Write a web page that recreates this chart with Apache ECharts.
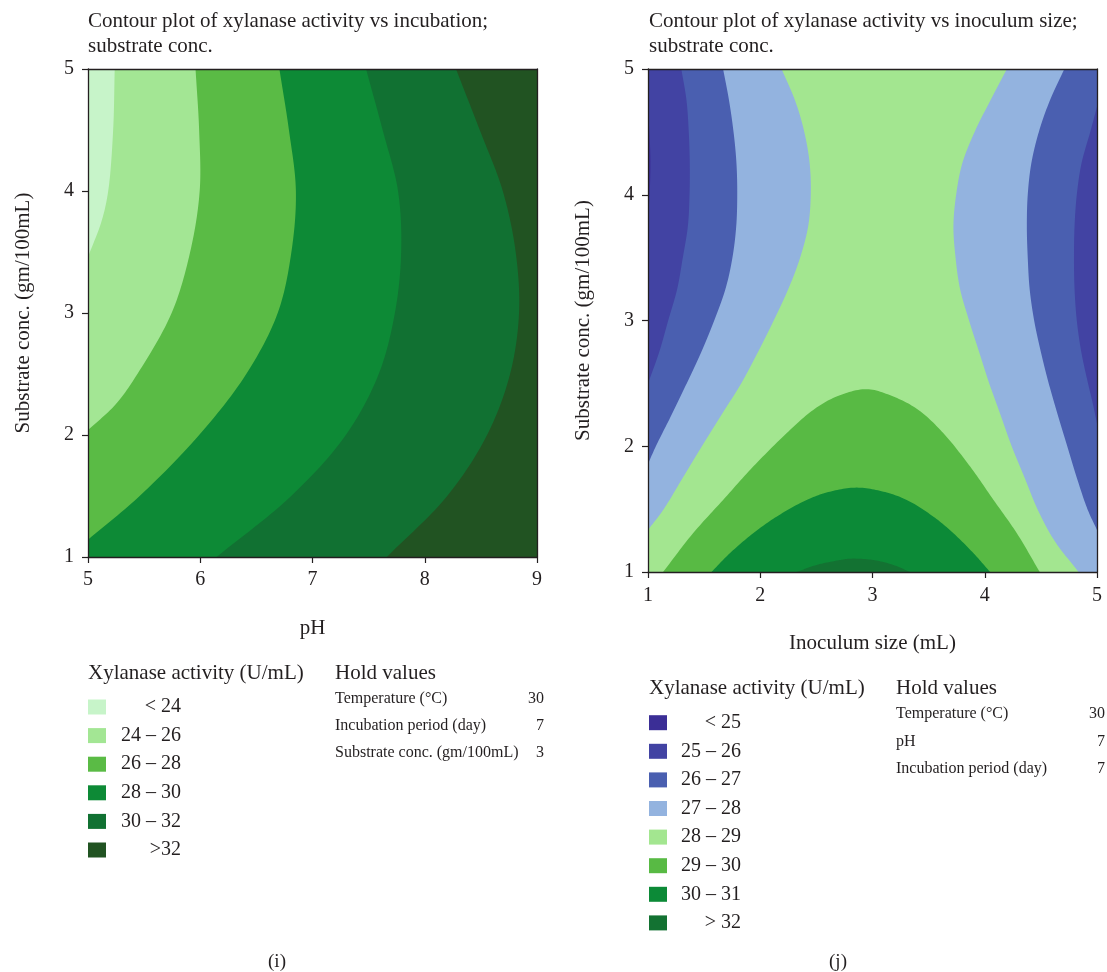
<!DOCTYPE html>
<html>
<head>
<meta charset="utf-8">
<script src="https://cdn.jsdelivr.net/npm/echarts@6/dist/echarts.min.js"></script>
<style>
  html, body { margin: 0; padding: 0; background: #ffffff; }
  #chart { width: 1107px; height: 972px; }
</style>
</head>
<body>
<div id="chart"></div>
<script>
// ---- axis ranges -------------------------------------------------------
const pHRange = [5, 9];
const inoculumRange = [1, 5];
const substrateRange = [1, 5];

// ---- panel (i): pH x substrate conc. -----------------------------------
const panelIBands = ['< 24', '24 – 26', '26 – 28', '28 – 30', '30 – 32', '>32'];
const panelIColors = ['#c7f4c9', '#a3e694', '#5abb45', '#0d8a36', '#117132', '#215322'];

// contour lines as [pH, substrate conc.], traced from the top edge downward
const iContour24 = [[5.238, 5], [5.224, 4.5], [5.18, 4.0], [5.12, 3.75], [5.0, 3.46]];
const iContour26 = [[5.958, 5], [5.99, 4.5], [5.995, 4.0], [5.91, 3.5], [5.745, 3.0], [5.44, 2.5],
  [5.245, 2.25], [5.0, 2.04]];
const iContour28 = [[6.705, 5], [6.79, 4.5], [6.852, 4.0], [6.812, 3.5], [6.69, 3.0], [6.41, 2.5],
  [5.99, 2.0], [5.46, 1.5], [5.0, 1.142]];
const iContour30 = [[7.477, 5], [7.625, 4.5], [7.762, 4.0], [7.79, 3.5], [7.734, 3.0], [7.59, 2.5],
  [7.297, 2.0], [6.81, 1.5], [6.145, 1.0]];
const iContour32 = [[8.278, 5], [8.49, 4.5], [8.695, 4.0], [8.81, 3.5], [8.84, 3.0], [8.76, 2.5],
  [8.555, 2.0], [8.2, 1.5], [7.662, 1.0]];

const panelIHoldLabels = ['Temperature (°C)', 'Incubation period (day)', 'Substrate conc. (gm/100mL)'];
const panelIHoldValues = ['30', '7', '3'];

// ---- panel (j): inoculum size x substrate conc. ------------------------
const panelJBands = ['< 25', '25 – 26', '26 – 27', '27 – 28', '28 – 29', '29 – 30', '30 – 31', '> 32'];
const panelJColors = ['#3b2e96', '#4243a3', '#4a5fb0', '#93b3df', '#a3e690', '#58ba44', '#0c8a37', '#137232'];

// contour lines as [inoculum size, substrate conc.]
const jContour25Left = [[1.0, 4.67], [1.015, 4.45], [1.022, 4.25], [1.015, 4.02], [1.0, 3.82]];
const jContour26Left = [[1.297, 5], [1.343, 4.75], [1.363, 4.5], [1.372, 4.25], [1.37, 4.0], [1.355, 3.75],
  [1.31, 3.5], [1.26, 3.25], [1.18, 3.0], [1.1, 2.75], [1.0, 2.5]];
const jContour27Left = [[1.669, 5], [1.722, 4.75], [1.762, 4.5], [1.788, 4.25], [1.795, 4.0], [1.786, 3.75],
  [1.752, 3.5], [1.69, 3.25], [1.59, 3.0], [1.475, 2.75], [1.345, 2.5], [1.21, 2.25], [1.07, 2.0], [1.0, 1.86]];
const jContour28Left = [[2.19, 5], [2.31, 4.75], [2.392, 4.5], [2.44, 4.25], [2.45, 4.0], [2.427, 3.75],
  [2.355, 3.5], [2.25, 3.25], [2.12, 3.0], [1.98, 2.75], [1.83, 2.5], [1.655, 2.25], [1.48, 2.0], [1.31, 1.75],
  [1.14, 1.5], [1.0, 1.334]];
const jContour28Right = [[4.197, 5], [4.05, 4.75], [3.91, 4.5], [3.8, 4.25], [3.745, 4.0], [3.721, 3.75],
  [3.74, 3.5], [3.78, 3.25], [3.86, 3.0], [3.95, 2.75], [4.04, 2.5], [4.14, 2.25], [4.24, 2.0], [4.355, 1.75],
  [4.47, 1.5], [4.62, 1.25], [4.836, 1.0]];
const jContour27Right = [[4.709, 5], [4.58, 4.75], [4.482, 4.5], [4.415, 4.25], [4.383, 4.0], [4.375, 3.75],
  [4.383, 3.5], [4.4, 3.25], [4.44, 3.0], [4.5, 2.75], [4.57, 2.5], [4.65, 2.25], [4.735, 2.0], [4.82, 1.75],
  [4.915, 1.5], [5.0, 1.334]];
const jContour26Right = [[5.0, 4.7], [4.94, 4.5], [4.862, 4.25], [4.82, 4.0], [4.8, 3.75], [4.795, 3.5],
  [4.8, 3.25], [4.82, 3.0], [4.86, 2.75], [4.92, 2.5], [4.96, 2.35], [5.0, 2.18]];
const jContour29 = [[1.134, 1.0], [1.401, 1.308], [1.669, 1.573], [1.937, 1.838], [2.234, 2.103], [2.472, 2.289],
  [2.68, 2.395], [2.948, 2.454], [3.186, 2.395], [3.409, 2.289], [3.632, 2.103], [3.87, 1.838], [4.078, 1.573],
  [4.286, 1.308], [4.49, 1.0]];
const jContour30 = [[1.565, 1.0], [1.729, 1.149], [1.937, 1.308], [2.145, 1.44], [2.413, 1.573], [2.621, 1.639],
  [2.859, 1.671], [3.097, 1.639], [3.305, 1.573], [3.543, 1.44], [3.721, 1.308], [3.9, 1.149], [4.048, 1.0]];
const jContour31 = [[2.323, 1.0], [2.502, 1.056], [2.71, 1.095], [2.8, 1.106], [3.007, 1.095], [3.186, 1.056], [3.335, 1.0]];

const panelJHoldLabels = ['Temperature (°C)', 'pH', 'Incubation period (day)'];
const panelJHoldValues = ['30', '7', '7'];

// ---- styling -----------------------------------------------------------
const FONT = "'Liberation Serif', 'Times New Roman', serif";
const INK = '#231f20';

// centripetal Catmull-Rom curve through pixel points (drawing only)
function smoothCurve(px, steps) {
  if (px.length < 3) return px.slice();
  const n = px.length;
  const ext = [
    [2 * px[0][0] - px[1][0], 2 * px[0][1] - px[1][1]],
    ...px,
    [2 * px[n - 1][0] - px[n - 2][0], 2 * px[n - 1][1] - px[n - 2][1]]
  ];
  const knot = (a, b) => Math.max(Math.sqrt(Math.hypot(b[0] - a[0], b[1] - a[1])), 1e-4);
  const lerp = (a, b, ta, tb, t) => [
    (tb - t) / (tb - ta) * a[0] + (t - ta) / (tb - ta) * b[0],
    (tb - t) / (tb - ta) * a[1] + (t - ta) / (tb - ta) * b[1]
  ];
  const out = [];
  for (let i = 1; i < ext.length - 2; i++) {
    const p0 = ext[i - 1], p1 = ext[i], p2 = ext[i + 1], p3 = ext[i + 2];
    const t0 = 0, t1 = t0 + knot(p0, p1), t2 = t1 + knot(p1, p2), t3 = t2 + knot(p2, p3);
    for (let s = 0; s < steps; s++) {
      const t = t1 + (t2 - t1) * s / steps;
      const a1 = lerp(p0, p1, t0, t1, t), a2 = lerp(p1, p2, t1, t2, t), a3 = lerp(p2, p3, t2, t3, t);
      const b1 = lerp(a1, a2, t0, t2, t), b2 = lerp(a2, a3, t1, t3, t);
      out.push(lerp(b1, b2, t1, t2, t));
    }
  }
  out.push(px[n - 1]);
  return out;
}

// filled region bounded by a contour line plus plot-edge corners
function regionSeries(name, color, line, corners, gridIdx) {
  return {
    type: 'custom',
    name: name,
    xAxisIndex: gridIdx * 2,
    yAxisIndex: gridIdx * 2,
    clip: true,
    silent: true,
    animation: false,
    itemStyle: { color: color },
    data: line,
    renderItem: function (params, api) {
      if (params.dataIndex !== 0) return null;
      const px = line.map(p => api.coord(p));
      const poly = smoothCurve(px, 14).concat(corners.map(p => api.coord(p)));
      return { type: 'polygon', shape: { points: poly }, style: { fill: api.visual('color') } };
    }
  };
}

const [x0, x1] = pHRange, [u0, u1] = inoculumRange, [s0, s1] = substrateRange;

const series = [
  // panel (i): darkest band is the grid background, lighter bands stacked over it
  regionSeries(panelIBands[4], panelIColors[4], iContour32, [[x0, s0], [x0, s1]], 0),
  regionSeries(panelIBands[3], panelIColors[3], iContour30, [[x0, s0], [x0, s1]], 0),
  regionSeries(panelIBands[2], panelIColors[2], iContour28, [[x0, s1]], 0),
  regionSeries(panelIBands[1], panelIColors[1], iContour26, [[x0, s1]], 0),
  regionSeries(panelIBands[0], panelIColors[0], iContour24, [[x0, s1]], 0),
  // panel (j): 28–29 is the grid background
  regionSeries(panelJBands[3], panelJColors[3], jContour28Left, [[u0, s1]], 1),
  regionSeries(panelJBands[2], panelJColors[2], jContour27Left, [[u0, s1]], 1),
  regionSeries(panelJBands[1], panelJColors[1], jContour26Left, [[u0, s1]], 1),
  regionSeries(panelJBands[0], panelJColors[0], jContour25Left, [], 1),
  regionSeries(panelJBands[3], panelJColors[3], jContour28Right, [[u1, s0], [u1, s1]], 1),
  regionSeries(panelJBands[2], panelJColors[2], jContour27Right, [[u1, s1]], 1),
  regionSeries(panelJBands[1], panelJColors[1], jContour26Right, [], 1),
  regionSeries(panelJBands[5], panelJColors[5], jContour29, [], 1),
  regionSeries(panelJBands[6], panelJColors[6], jContour30, [], 1),
  regionSeries(panelJBands[7], panelJColors[7], jContour31, [], 1)
];

function mainXAxis(gridIndex, range, name, margin, gap) {
  return {
    type: 'value', gridIndex: gridIndex, min: range[0], max: range[1], interval: 1, z: 10,
    name: name, nameLocation: 'middle', nameGap: gap,
    nameTextStyle: { fontFamily: FONT, fontSize: 21, color: INK },
    axisLine: { show: true, onZero: false, lineStyle: { color: INK, width: 1.3 } },
    axisTick: { show: true, inside: false, length: 6, lineStyle: { color: INK, width: 1.2 } },
    axisLabel: { fontFamily: FONT, fontSize: 20, color: INK, margin: margin },
    splitLine: { show: false }
  };
}
function mainYAxis(gridIndex, range, name) {
  return {
    type: 'value', gridIndex: gridIndex, min: range[0], max: range[1], interval: 1, z: 10,
    name: name, nameLocation: 'middle', nameGap: 54,
    nameTextStyle: { fontFamily: FONT, fontSize: 21, color: INK },
    axisLine: { show: true, onZero: false, lineStyle: { color: INK, width: 1.3 } },
    axisTick: { show: true, inside: false, length: 6, lineStyle: { color: INK, width: 1.2 } },
    axisLabel: { fontFamily: FONT, fontSize: 20, color: INK, margin: 14 },
    splitLine: { show: false }
  };
}
function frameAxis(kind, gridIndex, range) {
  return {
    type: 'value', gridIndex: gridIndex, min: range[0], max: range[1], z: 10,
    position: kind === 'x' ? 'top' : 'right',
    axisLine: { show: true, onZero: false, lineStyle: { color: INK, width: 1.3 } },
    axisTick: { show: false }, axisLabel: { show: false }, splitLine: { show: false }
  };
}

// legend + hold-value blocks drawn as text/rect graphics
function legendBlock(left, titleY, firstRowY, rowStep, labelRight, bands, colors) {
  const els = [{
    type: 'text', x: left, y: titleY,
    style: { text: 'Xylanase activity (U/mL)', fontFamily: FONT, fontSize: 21, fill: INK, align: 'left', verticalAlign: 'middle' }
  }];
  bands.forEach((b, i) => {
    const cy = firstRowY + i * rowStep;
    els.push({ type: 'rect', shape: { x: left, y: cy - 7.5, width: 18, height: 15 }, style: { fill: colors[i] } });
    els.push({
      type: 'text', x: labelRight, y: cy,
      style: { text: b, fontFamily: FONT, fontSize: 20, fill: INK, align: 'right', verticalAlign: 'middle' }
    });
  });
  return els;
}
function holdBlock(left, right, titleY, firstRowY, rowStep, labels, values) {
  const els = [{
    type: 'text', x: left, y: titleY,
    style: { text: 'Hold values', fontFamily: FONT, fontSize: 21, fill: INK, align: 'left', verticalAlign: 'middle' }
  }];
  labels.forEach((l, i) => {
    const cy = firstRowY + i * rowStep;
    els.push({ type: 'text', x: left, y: cy, style: { text: l, fontFamily: FONT, fontSize: 16, fill: INK, align: 'left', verticalAlign: 'middle' } });
    els.push({ type: 'text', x: right, y: cy, style: { text: values[i], fontFamily: FONT, fontSize: 16, fill: INK, align: 'right', verticalAlign: 'middle' } });
  });
  return els;
}

const graphics = []
  .concat(legendBlock(88, 673, 707, 28.6, 181, panelIBands, panelIColors))
  .concat(holdBlock(335, 544, 673, 699, 27, panelIHoldLabels, panelIHoldValues))
  .concat(legendBlock(649, 688, 722.7, 28.6, 741, panelJBands, panelJColors))
  .concat(holdBlock(896, 1105, 688, 714, 27.5, panelJHoldLabels, panelJHoldValues))
  .concat([
    { type: 'text', x: 277, y: 962, style: { text: '(i)', fontFamily: FONT, fontSize: 19, fill: INK, align: 'center', verticalAlign: 'middle' } },
    { type: 'text', x: 838, y: 962, style: { text: '(j)', fontFamily: FONT, fontSize: 19, fill: INK, align: 'center', verticalAlign: 'middle' } }
  ]);

const chart = echarts.init(document.getElementById('chart'), null, { renderer: 'canvas' });
chart.setOption({
  animation: false,
  backgroundColor: '#ffffff',
  title: [
    { text: 'Contour plot of xylanase activity vs incubation;\nsubstrate conc.', left: 88, top: 9, padding: 0,
      textStyle: { fontFamily: FONT, fontSize: 21, fontWeight: 'normal', color: INK, lineHeight: 25 } },
    { text: 'Contour plot of xylanase activity vs inoculum size;\nsubstrate conc.', left: 649, top: 9, padding: 0,
      textStyle: { fontFamily: FONT, fontSize: 21, fontWeight: 'normal', color: INK, lineHeight: 25 } }
  ],
  grid: [
    { left: 88, top: 69, width: 449, height: 488, show: true, backgroundColor: panelIColors[5], borderWidth: 0 },
    { left: 648, top: 69, width: 449, height: 503, show: true, backgroundColor: panelJColors[4], borderWidth: 0 }
  ],
  xAxis: [
    mainXAxis(0, pHRange, 'pH', 13, 61), frameAxis('x', 0, pHRange),
    mainXAxis(1, inoculumRange, 'Inoculum size (mL)', 14, 61), frameAxis('x', 1, inoculumRange)
  ],
  yAxis: [
    mainYAxis(0, substrateRange, 'Substrate conc. (gm/100mL)'), frameAxis('y', 0, substrateRange),
    mainYAxis(1, substrateRange, 'Substrate conc. (gm/100mL)'), frameAxis('y', 1, substrateRange)
  ],
  series: series,
  graphic: graphics
});
</script>
</body>
</html>
